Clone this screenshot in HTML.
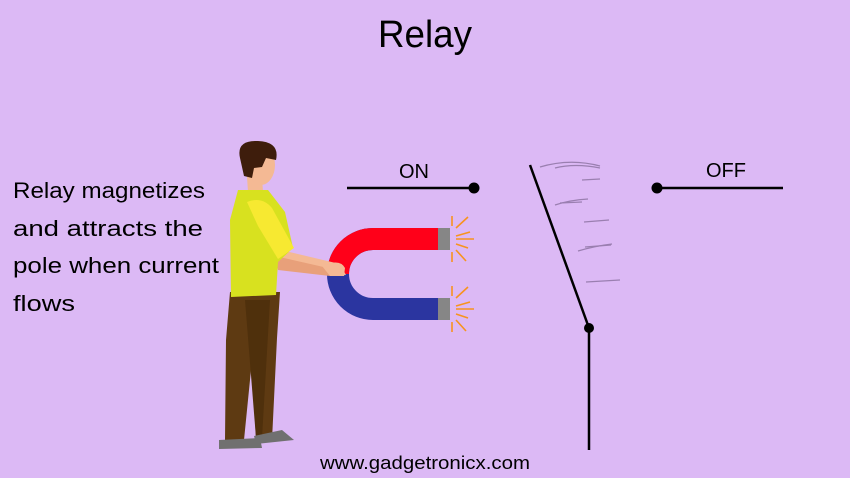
<!DOCTYPE html>
<html><head><meta charset="utf-8"><style>
html,body{margin:0;padding:0;background:#dcb9f5;}
svg{display:block;}
</style></head><body>
<svg width="850" height="478" viewBox="0 0 850 478" xmlns="http://www.w3.org/2000/svg">
<rect width="850" height="478" fill="#dcb9f5"/>
<text x="425" y="47" font-family="Liberation Sans, sans-serif" font-size="38" text-anchor="middle" textLength="94" lengthAdjust="spacingAndGlyphs" fill="#000">Relay</text>
<g font-family="Liberation Sans, sans-serif" font-size="22" fill="#000">
<text x="13" y="198" textLength="192" lengthAdjust="spacingAndGlyphs">Relay magnetizes</text>
<text x="13" y="236" textLength="190" lengthAdjust="spacingAndGlyphs">and attracts the</text>
<text x="13" y="273" textLength="206" lengthAdjust="spacingAndGlyphs">pole when current</text>
<text x="13" y="311" textLength="62" lengthAdjust="spacingAndGlyphs">flows</text>
</g>
<line x1="347" y1="188" x2="474" y2="188" stroke="#000" stroke-width="2.5"/>
<circle cx="474" cy="188" r="5.5" fill="#000"/>
<text x="414" y="178" font-family="Liberation Sans, sans-serif" font-size="20" text-anchor="middle">ON</text>
<line x1="657" y1="188" x2="783" y2="188" stroke="#000" stroke-width="2.5"/>
<circle cx="657" cy="188" r="5.5" fill="#000"/>
<text x="726" y="177" font-family="Liberation Sans, sans-serif" font-size="20" text-anchor="middle">OFF</text>
<line x1="530" y1="165" x2="589" y2="328" stroke="#000" stroke-width="2.5"/>
<line x1="589" y1="328" x2="589" y2="450" stroke="#000" stroke-width="2.5"/>
<circle cx="589" cy="328" r="5" fill="#000"/>
<g stroke="#9a7fb0" stroke-width="1.3" fill="none">
<path d="M540 167 Q570 158 600 166"/><path d="M555 168 Q575 163 600 168"/>
<path d="M582 180 L600 179"/><path d="M555 205 Q570 200 588 199"/><path d="M560 203 L582 202"/>
<path d="M584 222 L609 220"/><path d="M578 251 Q595 246 612 244"/><path d="M585 247 L611 245"/>
<path d="M586 282 L620 280"/>
</g>
<path d="M438 239 L373 239 A35 35 0 0 0 373 309 L438 309" fill="none" stroke="#2b35a0" stroke-width="22"/>
<path d="M438 239 L373 239 A35 35 0 0 0 338 274" fill="none" stroke="#ff0019" stroke-width="22"/>
<rect x="438" y="228" width="12" height="22" fill="#868686"/>
<rect x="438" y="298" width="12" height="22" fill="#868686"/>
<g stroke="#f7931e" stroke-width="1.6">
<line x1="452" y1="216" x2="452" y2="226"/><line x1="456" y1="228" x2="468" y2="217"/><line x1="456" y1="236" x2="470" y2="232"/><line x1="456" y1="239" x2="474" y2="239"/><line x1="456" y1="244" x2="468" y2="248"/><line x1="456" y1="250" x2="466" y2="261"/><line x1="452" y1="252" x2="452" y2="262"/>
<line x1="452" y1="286" x2="452" y2="296"/><line x1="456" y1="298" x2="468" y2="287"/><line x1="456" y1="306" x2="470" y2="302"/><line x1="456" y1="309" x2="474" y2="309"/><line x1="456" y1="314" x2="468" y2="318"/><line x1="456" y1="320" x2="466" y2="331"/><line x1="452" y1="322" x2="452" y2="332"/>
</g>
<path d="M230 292 L280 292 L277 338 L272 440 L256 440 L252 360 L244 440 L225 440 L226 340 Z" fill="#5e3a12"/>
<path d="M245 300 L270 300 L262 438 L256 438 Z" fill="#4f300c"/>
<path d="M219 440 L260 438 L262 448 L219 449 Z" fill="#707070"/>
<path d="M254 436 L282 430 L294 440 L256 444 Z" fill="#707070"/>
<path d="M247 177 L262 177 L263 192 L248 192 Z" fill="#f4b994"/>
<path d="M281 250 L340 264 L346 275 L335 276 L280 266 Z" fill="#f4b994"/>
<path d="M275 256 L328 268 L330 276 L278 270 Z" fill="#e8a07a"/>
<path d="M238 190 L268 190 L285 212 L293 248 L278 262 L276 295 L231 297 L230 220 Z" fill="#d8e11f"/>
<path d="M247 202 Q262 196 272 208 L294 248 L278 259 L258 226 Z" fill="#f7e931"/>
<ellipse cx="261" cy="165" rx="14" ry="20" fill="#f4b994"/>
<path d="M240 158 Q236 140 258 141 Q280 142 276 160 L266 158 L262 167 L254 168 L252 178 L244 176 Z" fill="#3e1d0c"/>
<path d="M322 266 Q340 258 345 268 L344 276 L330 276 Z" fill="#f4b994"/>
<text x="425" y="469" font-family="Liberation Sans, sans-serif" font-size="18" text-anchor="middle" textLength="210" lengthAdjust="spacingAndGlyphs" fill="#000">www.gadgetronicx.com</text>
</svg>
</body></html>
